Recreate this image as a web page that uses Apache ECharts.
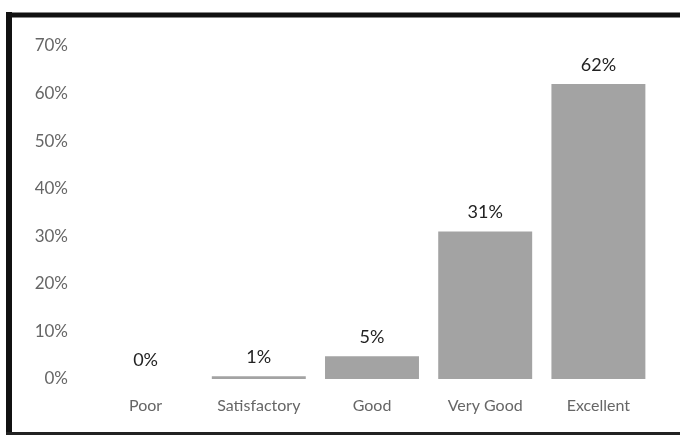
<!DOCTYPE html>
<html>
<head>
<meta charset="utf-8">
<style>
  html, body { margin: 0; padding: 0; background: #fff; }
  #chart { width: 680px; height: 435px; }
</style>
<script src="https://cdn.jsdelivr.net/npm/echarts@6/dist/echarts.min.js"></script>
</head>
<body>
<div id="chart"></div>
<script>
// ratings and share of responses (%)
const categories = ['Poor', 'Satisfactory', 'Good', 'Very Good', 'Excellent'];
const shares = [0, 0.6, 4.8, 31, 62];
const yTicks = [0, 10, 20, 30, 40, 50, 60, 70];

const chart = echarts.init(document.getElementById('chart'));
chart.setOption({
  animation: false,
  textStyle: { fontFamily: 'Lato' },
  grid: { left: 89, right: 25, top: 46, bottom: 56 },
  // scanned frame round the chart
  graphic: [
    { type: 'line', shape: { x1: 9, y1: 12, x2: 9, y2: 435 }, style: { stroke: '#111', lineWidth: 6 } },
    { type: 'line', shape: { x1: 6, y1: 15, x2: 680, y2: 15 }, style: { stroke: '#111', lineWidth: 5 } },
    { type: 'line', shape: { x1: 6, y1: 433.5, x2: 680, y2: 433.5 }, style: { stroke: '#222', lineWidth: 3 } }
  ],
  xAxis: {
    type: 'category',
    data: categories,
    axisLine: { show: false },
    axisTick: { show: false },
    axisLabel: { color: '#666', fontSize: 16, margin: 19, interval: 0 }
  },
  yAxis: {
    type: 'value',
    min: yTicks[0],
    max: yTicks[yTicks.length - 1],
    interval: 10,
    splitLine: { show: false },
    axisLine: { show: false },
    axisTick: { show: false },
    axisLabel: { color: '#666', fontSize: 17, margin: 21, formatter: '{value}%' }
  },
  series: [{
    type: 'bar',
    data: shares,
    barWidth: '83%',
    itemStyle: { color: '#a3a3a3' },
    label: {
      show: true,
      position: 'top',
      distance: 10,
      color: '#222',
      fontSize: 18,
      formatter: (p) => Math.round(p.value) + '%'
    }
  }]
});
</script>
</body>
</html>
